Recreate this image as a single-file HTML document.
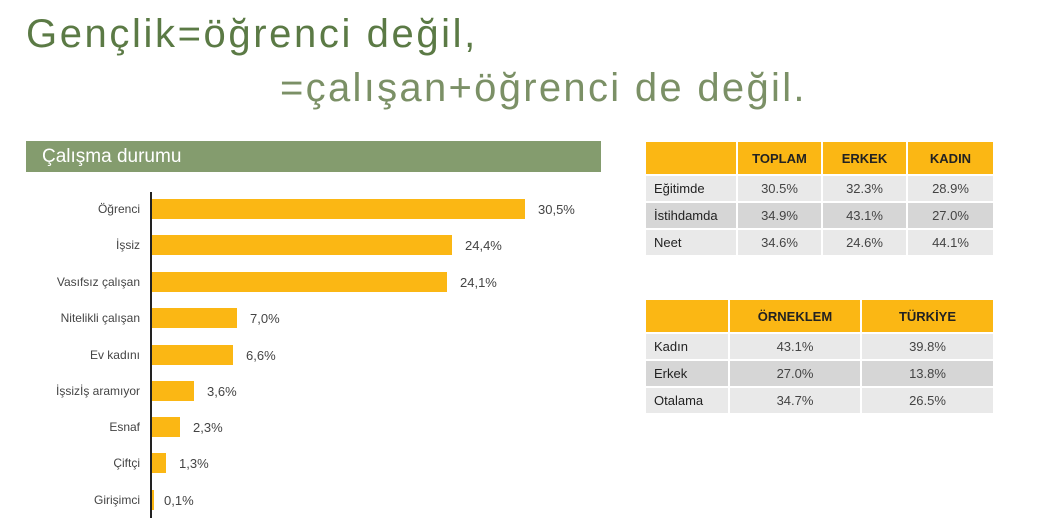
<!DOCTYPE html>
<html><head><meta charset="utf-8"><style>
body{margin:0;width:1055px;height:527px;background:#fff;position:relative;overflow:hidden;font-family:"Liberation Sans","DejaVu Sans",sans-serif}
.t{position:absolute;color:#5b7a45;font-size:40px;white-space:nowrap}
.hdr{position:absolute;left:26px;top:141px;width:575px;height:31px;background:#849c6e;color:#fff;font-size:19px;line-height:31px;padding-left:16px;box-sizing:border-box}
.ax{position:absolute;left:150px;top:192px;width:2px;height:326px;background:#222}
.bar{position:absolute;left:152px;height:20px;background:#fbb714}
.lb{position:absolute;right:915px;font-size:12px;color:#444;white-space:nowrap}
.vl{position:absolute;font-size:13px;color:#444}
table{position:absolute;border-collapse:collapse;font-size:13px;color:#222}
td{border:2px solid #fff;height:25px;padding:0 8px}
th{border:2px solid #fff;background:#fbb714;height:30px;font-size:13px;color:#222}
td.n{text-align:center;color:#444}
tr.a td{background:#e9e9e9}tr.b td{background:#d6d6d6}
</style></head><body>
<div class="t" style="left:26px;top:12px;letter-spacing:2.6px">Gençlik=öğrenci değil,</div>
<div class="t" style="left:280px;top:66px;color:#7b9066;letter-spacing:2.3px">=çalışan+öğrenci de değil.</div>
<div class="hdr">Çalışma durumu</div>
<div class="ax"></div>
<div class="bar" style="top:199px;width:373px"></div><div class="lb" style="top:202px">Öğrenci</div><div class="vl" style="left:538px;top:202px">30,5%</div>
<div class="bar" style="top:235px;width:300px"></div><div class="lb" style="top:238px">İşsiz</div><div class="vl" style="left:465px;top:238px">24,4%</div>
<div class="bar" style="top:272px;width:295px"></div><div class="lb" style="top:275px">Vasıfsız çalışan</div><div class="vl" style="left:460px;top:275px">24,1%</div>
<div class="bar" style="top:308px;width:85px"></div><div class="lb" style="top:311px">Nitelikli çalışan</div><div class="vl" style="left:250px;top:311px">7,0%</div>
<div class="bar" style="top:345px;width:81px"></div><div class="lb" style="top:348px">Ev kadını</div><div class="vl" style="left:246px;top:348px">6,6%</div>
<div class="bar" style="top:381px;width:42px"></div><div class="lb" style="top:384px">İşsizİş aramıyor</div><div class="vl" style="left:207px;top:384px">3,6%</div>
<div class="bar" style="top:417px;width:28px"></div><div class="lb" style="top:420px">Esnaf</div><div class="vl" style="left:193px;top:420px">2,3%</div>
<div class="bar" style="top:453px;width:14px"></div><div class="lb" style="top:456px">Çiftçi</div><div class="vl" style="left:179px;top:456px">1,3%</div>
<div class="bar" style="top:490px;width:2px"></div><div class="lb" style="top:493px">Girişimci</div><div class="vl" style="left:164px;top:493px">0,1%</div>

<table style="left:644px;top:140px;width:351px">
<tr><th style="width:88px"></th><th style="width:81px">TOPLAM</th><th style="width:81px">ERKEK</th><th>KADIN</th></tr>
<tr class="a"><td>Eğitimde</td><td class="n">30.5%</td><td class="n">32.3%</td><td class="n">28.9%</td></tr>
<tr class="b"><td>İstihdamda</td><td class="n">34.9%</td><td class="n">43.1%</td><td class="n">27.0%</td></tr>
<tr class="a"><td>Neet</td><td class="n">34.6%</td><td class="n">24.6%</td><td class="n">44.1%</td></tr>
</table>
<table style="left:644px;top:298px;width:351px">
<tr><th style="width:80px"></th><th style="width:128px">ÖRNEKLEM</th><th>TÜRKİYE</th></tr>
<tr class="a"><td>Kadın</td><td class="n">43.1%</td><td class="n">39.8%</td></tr>
<tr class="b"><td>Erkek</td><td class="n">27.0%</td><td class="n">13.8%</td></tr>
<tr class="a"><td>Otalama</td><td class="n">34.7%</td><td class="n">26.5%</td></tr>
</table>
</body></html>
